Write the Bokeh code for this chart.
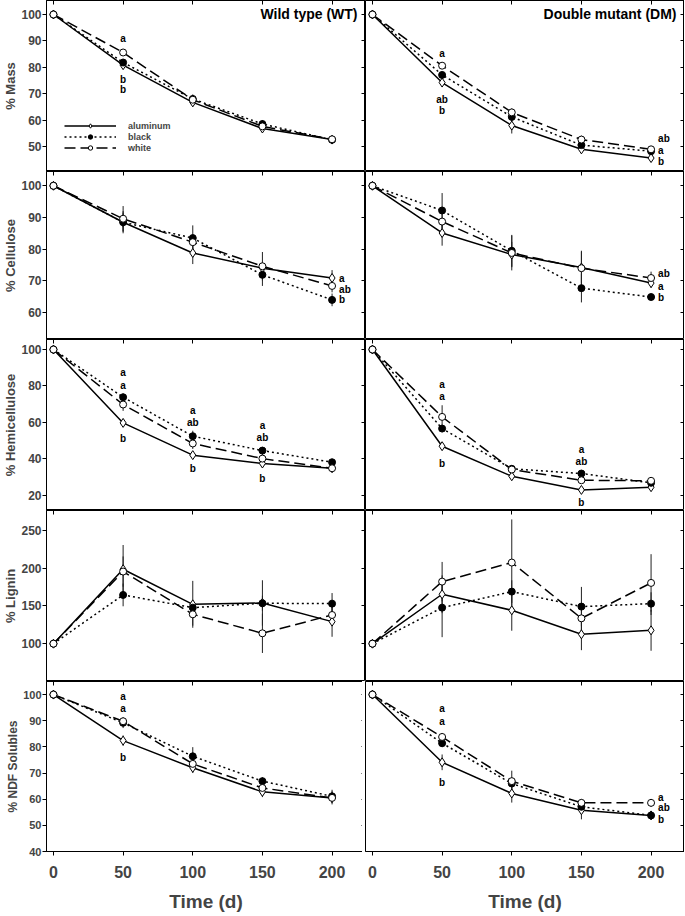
from bokeh.plotting import figure
from bokeh.layouts import gridplot
from bokeh.models import Range1d, LinearAxis, FixedTicker, Label, ColumnDataSource, Legend, LegendItem
from bokeh.core.properties import value
from bokeh.embed import file_html
from bokeh.resources import INLINE

FONT = "Liberation Sans"

days = [0, 50, 100, 150, 200]
x_ticks = [0, 50, 100, 150, 200]
treatments = ["aluminum", "black", "white"]
genotypes = ["Wild type (WT)", "Double mutant (DM)"]
variables = ["% Mass", "% Cellulose", "% Hemicellulose", "% Lignin", "% NDF Solubles"]

# ---------------- data ----------------
# % Mass
mass_wt_al = [100, 80.8, 66.7, 56.8, 52.6]
mass_wt_bk = [100, 81.8, 68.0, 58.5, 52.5]
mass_wt_wh = [100, 85.6, 67.7, 57.6, 52.7]
mass_wt_al_err = [0, 1.5, 1.5, 1.5, 1.0]
mass_wt_bk_err = [0, 1.0, 1.5, 1.5, 1.0]
mass_wt_wh_err = [0, 1.0, 2.0, 1.5, 1.0]
mass_dm_al = [100, 74.2, 57.9, 48.9, 45.6]
mass_dm_bk = [100, 77.1, 61.2, 50.5, 48.2]
mass_dm_wh = [100, 80.6, 62.9, 52.6, 48.9]
mass_dm_al_err = [0, 1.5, 3.0, 1.5, 1.0]
mass_dm_bk_err = [0, 1.0, 1.5, 1.5, 1.0]
mass_dm_wh_err = [0, 1.0, 1.5, 1.5, 1.0]

# % Cellulose
cell_wt_al = [100, 88.5, 78.8, 74.0, 70.9]
cell_wt_bk = [100, 88.5, 83.5, 71.9, 64.0]
cell_wt_wh = [100, 89.6, 82.2, 74.6, 68.4]
cell_wt_al_err = [0, 3.5, 3.5, 2.0, 2.5]
cell_wt_bk_err = [0, 3.0, 4.0, 3.5, 2.0]
cell_wt_wh_err = [0, 4.0, 2.0, 4.5, 2.0]
cell_dm_al = [100, 85.1, 78.3, 74.2, 69.3]
cell_dm_bk = [100, 92.2, 79.5, 67.7, 64.9]
cell_dm_wh = [100, 88.7, 78.8, 74.0, 70.9]
cell_dm_al_err = [0, 4.0, 4.0, 5.0, 1.5]
cell_dm_bk_err = [0, 5.5, 5.0, 4.5, 1.0]
cell_dm_wh_err = [0, 3.0, 5.5, 5.5, 2.0]

# % Hemicellulose
hemi_wt_al = [100, 59.7, 42.0, 37.4, 34.8]
hemi_wt_bk = [100, 73.8, 52.4, 44.5, 38.1]
hemi_wt_wh = [100, 69.8, 48.4, 40.1, 34.8]
hemi_wt_al_err = [0, 2.0, 1.5, 1.5, 1.0]
hemi_wt_bk_err = [0, 2.0, 3.0, 2.0, 1.0]
hemi_wt_wh_err = [0, 3.5, 3.0, 3.0, 1.0]
hemi_dm_al = [100, 46.9, 30.4, 22.9, 24.4]
hemi_dm_bk = [100, 56.6, 34.5, 31.9, 26.8]
hemi_dm_wh = [100, 63.0, 34.1, 28.2, 27.9]
hemi_dm_al_err = [0, 2.0, 1.5, 1.5, 1.0]
hemi_dm_bk_err = [0, 2.0, 1.5, 1.5, 1.0]
hemi_dm_wh_err = [0, 6.4, 1.5, 1.5, 1.0]

# % Lignin
lig_wt_al = [100, 198.4, 152.0, 153.8, 129.1]
lig_wt_bk = [100, 164.4, 147.6, 153.4, 152.9]
lig_wt_wh = [100, 195.3, 138.8, 113.7, 137.9]
lig_wt_al_err = [0, 32, 31, 30, 20]
lig_wt_bk_err = [0, 15, 10, 10, 14]
lig_wt_wh_err = [0, 20, 15, 26, 12]
lig_dm_al = [100, 165.3, 144.1, 112.4, 117.6]
lig_dm_bk = [100, 147.6, 168.8, 149.0, 152.9]
lig_dm_wh = [100, 182.0, 207.2, 133.5, 180.3]
lig_dm_al_err = [0, 25, 27, 21, 27]
lig_dm_bk_err = [0, 39, 15, 26, 15]
lig_dm_wh_err = [0, 26, 57, 20, 38]

# % NDF Solubles
ndf_wt_al = [100, 82.4, 72.0, 62.8, 60.5]
ndf_wt_bk = [100, 89.2, 76.4, 66.9, 61.1]
ndf_wt_wh = [100, 89.8, 73.5, 64.3, 60.5]
ndf_wt_al_err = [0, 2.0, 2.0, 2.0, 2.0]
ndf_wt_bk_err = [0, 2.0, 3.5, 1.5, 2.5]
ndf_wt_wh_err = [0, 1.5, 2.0, 2.0, 2.5]
ndf_dm_al = [100, 74.1, 62.2, 55.8, 53.8]
ndf_dm_bk = [100, 81.4, 66.0, 57.1, 53.8]
ndf_dm_wh = [100, 83.8, 66.9, 58.6, 58.6]
ndf_dm_al_err = [0, 3.0, 3.5, 3.5, 1.5]
ndf_dm_bk_err = [0, 1.5, 2.0, 1.5, 1.5]
ndf_dm_wh_err = [0, 1.5, 4.0, 1.5, 1.5]

# significance letters: (day, y, letter)
mass_wt_letters = [(50, 91.0, "a"), (50, 75.5, "b"), (50, 71.5, "b")]
mass_dm_letters = [(50, 85.2, "a"), (50, 67.7, "ab"), (50, 63.5, "b"),
                   (200, 53.0, "ab"), (200, 48.6, "a"), (200, 44.2, "b")]
cell_wt_letters = [(200, 70.7, "a"), (200, 67.2, "ab"), (200, 64.0, "b")]
cell_dm_letters = [(200, 72.2, "ab"), (200, 68.3, "a"), (200, 64.8, "b")]
hemi_wt_letters = [(50, 87.2, "a"), (50, 80.4, "a"), (50, 51.1, "b"),
                   (100, 66.5, "a"), (100, 60.1, "ab"), (100, 34.8, "b"),
                   (150, 58.3, "a"), (150, 51.9, "ab"), (150, 29.0, "b")]
hemi_dm_letters = [(50, 80.8, "a"), (50, 74.0, "a"), (50, 37.4, "b"),
                   (150, 45.1, "a"), (150, 38.7, "ab"), (150, 16.2, "b")]
lig_wt_letters = []
lig_dm_letters = []
ndf_wt_letters = [(50, 99.1, "a"), (50, 94.5, "a"), (50, 75.8, "b")]
ndf_dm_letters = [(50, 94.6, "a"), (50, 89.8, "a"), (50, 66.5, "b"),
                  (200, 60.8, "a"), (200, 56.7, "ab"), (200, 52.2, "b")]

# axis settings per variable
y_ranges = [(40.5, 105.3), (51.5, 104.5), (11.6, 105.5), (50, 276), (40, 105)]
y_ticks = [[50, 60, 70, 80, 90, 100], [60, 70, 80, 90, 100], [20, 40, 60, 80, 100],
           [100, 150, 200, 250], [40, 50, 60, 70, 80, 90, 100]]
x_range = (-5, 224)

panels = [
    [(mass_wt_al, mass_wt_bk, mass_wt_wh, mass_wt_al_err, mass_wt_bk_err, mass_wt_wh_err, mass_wt_letters),
     (mass_dm_al, mass_dm_bk, mass_dm_wh, mass_dm_al_err, mass_dm_bk_err, mass_dm_wh_err, mass_dm_letters)],
    [(cell_wt_al, cell_wt_bk, cell_wt_wh, cell_wt_al_err, cell_wt_bk_err, cell_wt_wh_err, cell_wt_letters),
     (cell_dm_al, cell_dm_bk, cell_dm_wh, cell_dm_al_err, cell_dm_bk_err, cell_dm_wh_err, cell_dm_letters)],
    [(hemi_wt_al, hemi_wt_bk, hemi_wt_wh, hemi_wt_al_err, hemi_wt_bk_err, hemi_wt_wh_err, hemi_wt_letters),
     (hemi_dm_al, hemi_dm_bk, hemi_dm_wh, hemi_dm_al_err, hemi_dm_bk_err, hemi_dm_wh_err, hemi_dm_letters)],
    [(lig_wt_al, lig_wt_bk, lig_wt_wh, lig_wt_al_err, lig_wt_bk_err, lig_wt_wh_err, lig_wt_letters),
     (lig_dm_al, lig_dm_bk, lig_dm_wh, lig_dm_al_err, lig_dm_bk_err, lig_dm_wh_err, lig_dm_letters)],
    [(ndf_wt_al, ndf_wt_bk, ndf_wt_wh, ndf_wt_al_err, ndf_wt_bk_err, ndf_wt_wh_err, ndf_wt_letters),
     (ndf_dm_al, ndf_dm_bk, ndf_dm_wh, ndf_dm_al_err, ndf_dm_bk_err, ndf_dm_wh_err, ndf_dm_letters)],
]

# ---------------- styles ----------------
line_dash = {"aluminum": "solid", "black": "2 3", "white": "11 5"}
marker = {"aluminum": "diamond", "black": "circle", "white": "circle"}
marker_size = {"aluminum": 9, "black": 7, "white": 7}
fill = {"aluminum": "white", "black": "black", "white": "white"}

frame_heights = [171, 168, 171, 171, 170]
FRAME_W = 319
LEFT_BORDER = 40
BOTTOM_BORDER = 62


def tick_only_axis(side, ticker, p):
    ax = LinearAxis(ticker=ticker)
    ax.major_label_text_color = None
    ax.major_label_text_font_size = "1px"
    ax.major_label_standoff = 0
    ax.major_tick_in = 4
    ax.major_tick_out = 0
    ax.minor_tick_in = 0
    ax.minor_tick_out = 0
    ax.axis_line_color = "black"
    ax.major_tick_line_color = "black"
    p.add_layout(ax, side)
    return ax


rows = []
for r in range(5):
    row_figs = []
    for c in range(2):
        al, bk, wh, al_e, bk_e, wh_e, letters = panels[r][c]
        bottom = (r == 4)
        left = (c == 0)
        p = figure(frame_width=FRAME_W, frame_height=frame_heights[r],
                   x_range=Range1d(*x_range), y_range=Range1d(*y_ranges[r]),
                   x_axis_location=None, y_axis_location=None,
                   output_backend="svg", toolbar_location=None,
                   min_border_left=LEFT_BORDER if left else 0,
                   min_border_right=0, min_border_top=0,
                   min_border_bottom=BOTTOM_BORDER if bottom else 0)
        p.grid.visible = False
        p.outline_line_color = "black"
        p.outline_line_width = 1
        p.background_fill_color = "white"
        p.border_fill_color = "white"

        yt = FixedTicker(ticks=y_ticks[r], minor_ticks=[])
        xt = FixedTicker(ticks=x_ticks, minor_ticks=[])

        if left:
            ya = LinearAxis(ticker=yt, axis_label=variables[r])
            ya.major_tick_out = 4
            ya.major_tick_in = 0
            ya.minor_tick_out = 0
            ya.major_label_standoff = 1
            ya.axis_label_standoff = 0
            ya.major_label_text_font = FONT
            ya.major_label_text_font_style = "bold"
            ya.major_label_text_font_size = "11px" if r == 4 else "12px"
            ya.axis_label_text_font = FONT
            ya.axis_label_text_font_style = "bold"
            ya.axis_label_text_font_size = "12px" if r == 4 else "13px"
            ya.axis_line_color = "black"
            p.add_layout(ya, "left")
        tick_only_axis("right", yt, p)
        tick_only_axis("above", xt, p)

        if bottom:
            xa = LinearAxis(ticker=xt, axis_label="Time (d)")
            xa.major_tick_out = 4
            xa.major_tick_in = 0
            xa.minor_tick_out = 0
            xa.major_label_standoff = 10
            xa.axis_label_standoff = 10
            xa.major_label_text_font = FONT
            xa.major_label_text_font_style = "bold"
            xa.major_label_text_font_size = "16px"
            xa.axis_label_text_font = FONT
            xa.axis_label_text_font_style = "bold"
            xa.axis_label_text_font_size = "19px"
            xa.axis_line_color = "black"
            p.add_layout(xa, "below")

        series = {"aluminum": (al, al_e), "black": (bk, bk_e), "white": (wh, wh_e)}
        items = []
        for t in treatments:
            ys, es = series[t]
            lr = p.line(days, ys, line_color="black", line_width=1.5, line_dash=line_dash[t])
            p.segment(x0=days, y0=[y - e for y, e in zip(ys, es)],
                      x1=days, y1=[y + e for y, e in zip(ys, es)],
                      line_color="#222222", line_width=1)
            items.append((t, lr, ys))
        scatter_r = {}
        for t in treatments:
            ys, es = series[t]
            sr = p.scatter(days, ys, marker=marker[t], size=marker_size[t],
                           fill_color=fill[t], line_color="black", line_width=1)
            scatter_r[t] = sr

        # significance letters
        mid = [l for l in letters if l[0] != 200]
        end = [l for l in letters if l[0] == 200]
        if mid:
            src = ColumnDataSource(dict(x=[l[0] for l in mid], y=[l[1] for l in mid], t=[l[2] for l in mid]))
            p.text(x="x", y="y", text="t", source=src, text_align="center", text_baseline="middle",
                   text_font=value(FONT), text_font_style="bold", text_font_size="10px", text_color="black")
        if end:
            src = ColumnDataSource(dict(x=[l[0] for l in end], y=[l[1] for l in end], t=[l[2] for l in end]))
            p.text(x="x", y="y", text="t", source=src, text_align="left", text_baseline="middle",
                   x_offset=7, text_font=value(FONT), text_font_style="bold", text_font_size="10px",
                   text_color="black")

        if r == 0:
            p.add_layout(Label(x=x_range[1], y=100, x_offset=-8, text=genotypes[c],
                               text_align="right", text_baseline="middle",
                               text_font=FONT, text_font_style="bold", text_font_size="14px",
                               text_color="black"))
            if c == 0:
                leg = Legend(items=[LegendItem(label=t, renderers=[lr_, scatter_r[t]]) for t, lr_, _ in items],
                             location=(18, 18))
                leg.glyph_width = 52
                leg.glyph_height = 11
                leg.label_standoff = 12
                leg.spacing = 0
                leg.padding = 0
                leg.margin = 0
                leg.border_line_alpha = 0
                leg.background_fill_alpha = 0
                leg.label_text_font = FONT
                leg.label_text_font_style = "bold"
                leg.label_text_font_size = "9px"
                leg.label_height = 11
                p.add_layout(leg, "center")
        row_figs.append(p)
    rows.append(row_figs)

grid = gridplot(rows, toolbar_location=None)
open("out.html", "w").write(file_html(grid, INLINE))
